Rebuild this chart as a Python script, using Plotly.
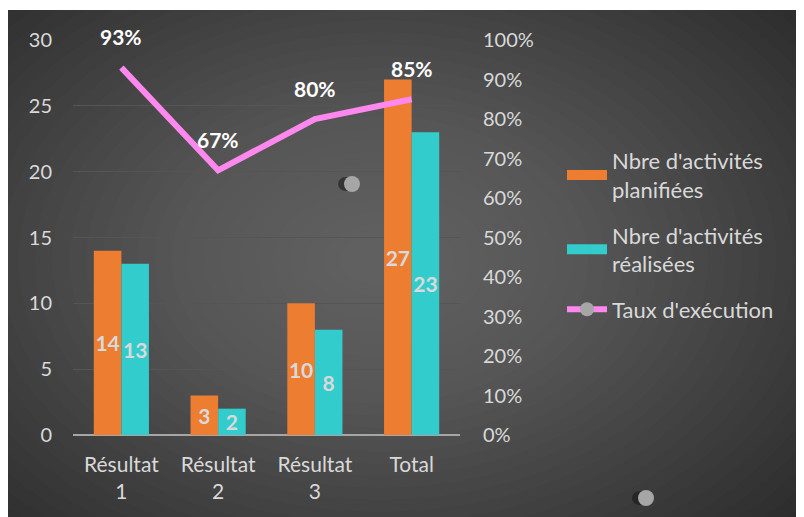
import plotly.graph_objects as go
from plotly.subplots import make_subplots

# Data
categories = ['Résultat<br>1', 'Résultat<br>2', 'Résultat<br>3', 'Total']
planifiees = [14, 3, 10, 27]
realisees = [13, 2, 8, 23]
taux = [0.93, 0.67, 0.80, 0.85]
taux_labels = ['93%', '67%', '80%', '85%']

# page is drawn with an 8px body margin, so figure px = page px - offset
OX, OY = 8, 8
W, H = 804, 517
L, R, T, B = 73 - OX, 804 - (460 - OX), 40 - OY, 517 - (435 - OY)
PW, PH = W - L - R, H - T - B


def px_x(p):
    return (p - OX - L) / PW


def px_y(p):
    return (H - B - (p - OY)) / PH


FONT = 'Lato, "Open Sans", sans-serif'
TXT = '#D9D9D9'
ORANGE, CYAN, PINK = '#ED7D31', '#33CCCC', '#FF88EE'

fig = make_subplots(specs=[[{"secondary_y": True}]])

fig.add_trace(go.Bar(
    x=categories, y=planifiees, name="Nbre d'activités<br>planifiées",
    showlegend=False,
    marker=dict(color=ORANGE, line=dict(width=0)),
    text=planifiees, textposition='inside', insidetextanchor='middle', textangle=0,
    textfont=dict(color=TXT, size=21, family=FONT, weight='bold'),
), secondary_y=False)

fig.add_trace(go.Bar(
    x=categories, y=realisees, name="Nbre d'activités<br>réalisées",
    showlegend=False,
    marker=dict(color=CYAN, line=dict(width=0)),
    text=realisees, textposition='inside', insidetextanchor='middle', textangle=0,
    textfont=dict(color=TXT, size=21, family=FONT, weight='bold'),
), secondary_y=False)

fig.add_trace(go.Scatter(
    x=categories, y=taux, name="Taux d'exécution", mode='lines',
    showlegend=False,
    line=dict(color=PINK, width=6),
), secondary_y=True)

# legend entries (wide swatches like the original)
fig.add_trace(go.Scatter(
    x=[None], y=[None], mode='lines', name="Nbre d'activités<br>planifiées",
    legendgroup='a', line=dict(color=ORANGE, width=12),
))
fig.add_trace(go.Scatter(
    x=[None], y=[None], mode='lines', name="Nbre d'activités<br>réalisées",
    legendgroup='b', line=dict(color=CYAN, width=12),
))
fig.add_trace(go.Scatter(
    x=[None], y=[None], mode='lines+markers', name="Taux d'exécution",
    legendgroup='c', line=dict(color=PINK, width=6),
    marker=dict(color='#A6A6A6', size=14),
))

# percentage labels above the line points
annotations = []
for c, v, t in zip(categories, taux, taux_labels):
    annotations.append(dict(
        x=c, y=v, xref='x', yref='y2', text=t, showarrow=False,
        yshift=31, font=dict(color='white', size=21, family=FONT, weight='bold'),
    ))

# background: dark panel with a soft radial glow
shapes = [dict(
    type='rect', xref='paper', yref='paper', layer='below',
    x0=px_x(0), x1=px_x(W + 20), y0=px_y(H + 20), y1=px_y(10),
    fillcolor='#262626', line=dict(width=0),
)]
cx, cy = 380, 260
n = 34
for i in range(n):
    rx = 600 - i * 17
    ry = 420 - i * 12
    shapes.append(dict(
        type='circle', xref='paper', yref='paper', layer='below',
        x0=px_x(cx - rx), x1=px_x(cx + rx), y0=px_y(cy + ry), y1=px_y(cy - ry),
        fillcolor='rgba(255,255,255,0.0125)', line=dict(width=0),
    ))

# stray marker dots
for dx, dy in [(352, 184), (646, 498)]:
    shapes.append(dict(
        type='circle', xref='paper', yref='paper', layer='above',
        xsizemode='pixel', ysizemode='pixel', xanchor=px_x(dx), yanchor=px_y(dy),
        x0=-14, x1=2, y0=-7, y1=7, fillcolor='rgba(15,15,15,0.5)', line=dict(width=0),
    ))
    shapes.append(dict(
        type='circle', xref='paper', yref='paper', layer='above',
        xsizemode='pixel', ysizemode='pixel', xanchor=px_x(dx), yanchor=px_y(dy),
        x0=-8, x1=8, y0=-8, y1=8, fillcolor='#A6A6A6', line=dict(width=0),
    ))

fig.update_layout(
    width=W, height=H,
    margin=dict(l=L, r=R, t=T, b=B, autoexpand=False),
    paper_bgcolor='white',
    plot_bgcolor='rgba(0,0,0,0)',
    barmode='group', bargap=0.43, bargroupgap=0,
    uniformtext=dict(minsize=21, mode='show'),
    font=dict(family=FONT, color=TXT, size=20),
    showlegend=True,
    legend=dict(
        xref='container', yref='container',
        x=(562 - OX) / W, y=1 - (140 - OY) / H, xanchor='left', yanchor='top',
        bgcolor='rgba(0,0,0,0)', font=dict(size=22, color=TXT, family=FONT),
        traceorder='grouped', tracegroupgap=14, itemwidth=40,
    ),
    annotations=annotations,
    shapes=shapes,
)

fig.update_xaxes(
    domain=[0, 1],
    showgrid=False, tickfont=dict(size=21, color=TXT, family=FONT),
    showline=False, ticks='', ticklabelstandoff=15, automargin=False,
)
fig.update_yaxes(
    range=[0, 30], dtick=5, showgrid=True, gridcolor='#555555', gridwidth=1,
    zeroline=True, zerolinecolor='#A6A6A6', zerolinewidth=2, automargin=False,
    tickfont=dict(size=20, color=TXT, family=FONT), ticklabelstandoff=20,
    secondary_y=False,
)
fig.update_yaxes(
    range=[0, 1], dtick=0.1, tickformat='.0%', showgrid=False, zeroline=False,
    tickfont=dict(size=20, color=TXT, family=FONT), ticklabelstandoff=22,
    automargin=False, secondary_y=True,
)

fig.write_html("out.html")
